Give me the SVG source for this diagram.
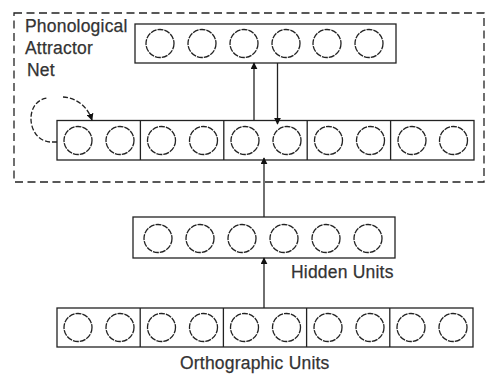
<svg xmlns="http://www.w3.org/2000/svg" width="485" height="376" viewBox="0 0 485 376">
  <defs>
    <style>
      .box { fill: #ffffff; stroke: #222; stroke-width: 1.3; }
      .div { stroke: #222; stroke-width: 1.3; }
      .unit { fill: #ffffff; stroke: #222; stroke-width: 1.3; stroke-dasharray: 6 1; }
      .link { fill: none; stroke: #222; stroke-width: 1.3; }
      .label { font-family: "Liberation Sans", Arial, sans-serif; font-size: 17.5px; fill: #333; stroke: #333; stroke-width: 0.25; letter-spacing: 0.2px; }
    </style>
    <marker id="head" viewBox="0 0 10 10" refX="9" refY="5" markerWidth="7" markerHeight="7" markerUnits="userSpaceOnUse" orient="auto">
      <path d="M0,0 L10,5 L0,10 z" fill="#111"/>
    </marker>
  </defs>

  <rect width="485" height="376" fill="#ffffff"/>

  <!-- attractor net boundary -->
  <g id="attractor-net">
    <rect x="14" y="13" width="470" height="169" fill="none" stroke="#222" stroke-width="1.3" stroke-dasharray="8 4.5"/>
    <text class="label" x="25" y="32">Phonological</text>
    <text class="label" x="25" y="54">Attractor</text>
    <text class="label" x="27" y="76">Net</text>
  </g>

  <!-- clean-up units at the top of the attractor -->
  <g id="phon-cleanup">
    <rect class="box" x="135" y="24" width="261" height="39"/>
    <circle class="unit" cx="160" cy="43.5" r="14"/>
    <circle class="unit" cx="202" cy="43.5" r="14"/>
    <circle class="unit" cx="244" cy="43.5" r="14"/>
    <circle class="unit" cx="286" cy="43.5" r="14"/>
    <circle class="unit" cx="327" cy="43.5" r="14"/>
    <circle class="unit" cx="369" cy="43.5" r="14"/>
  </g>

  <!-- phonological output units -->
  <g id="phon-units">
    <rect class="box" x="57" y="120.5" width="417" height="39.5"/>
    <line class="div" x1="140.4" y1="120.5" x2="140.4" y2="160"/>
    <line class="div" x1="223.8" y1="120.5" x2="223.8" y2="160"/>
    <line class="div" x1="307.2" y1="120.5" x2="307.2" y2="160"/>
    <line class="div" x1="390.6" y1="120.5" x2="390.6" y2="160"/>
    <circle class="unit" cx="78" cy="140.5" r="14"/>
    <circle class="unit" cx="120" cy="140.5" r="14"/>
    <circle class="unit" cx="161.5" cy="140.5" r="14"/>
    <circle class="unit" cx="203.5" cy="140.5" r="14"/>
    <circle class="unit" cx="245" cy="140.5" r="14"/>
    <circle class="unit" cx="287" cy="140.5" r="14"/>
    <circle class="unit" cx="328.5" cy="140.5" r="14"/>
    <circle class="unit" cx="370.5" cy="140.5" r="14"/>
    <circle class="unit" cx="412" cy="140.5" r="14"/>
    <circle class="unit" cx="453.5" cy="140.5" r="14"/>
  </g>

  <!-- hidden layer -->
  <g id="hidden-units">
    <rect class="box" x="133" y="217" width="262" height="41"/>
    <circle class="unit" cx="158" cy="238.5" r="14"/>
    <circle class="unit" cx="200" cy="238.5" r="14"/>
    <circle class="unit" cx="242" cy="238.5" r="14"/>
    <circle class="unit" cx="284" cy="238.5" r="14"/>
    <circle class="unit" cx="326" cy="238.5" r="14"/>
    <circle class="unit" cx="368" cy="238.5" r="14"/>
    <text class="label" x="291" y="278">Hidden Units</text>
  </g>

  <!-- orthographic input units -->
  <g id="orth-units">
    <rect class="box" x="57" y="308" width="416" height="39"/>
    <line class="div" x1="140.2" y1="308" x2="140.2" y2="347"/>
    <line class="div" x1="223.4" y1="308" x2="223.4" y2="347"/>
    <line class="div" x1="306.6" y1="308" x2="306.6" y2="347"/>
    <line class="div" x1="389.8" y1="308" x2="389.8" y2="347"/>
    <circle class="unit" cx="78" cy="327.5" r="14"/>
    <circle class="unit" cx="120" cy="327.5" r="14"/>
    <circle class="unit" cx="161.5" cy="327.5" r="14"/>
    <circle class="unit" cx="203.5" cy="327.5" r="14"/>
    <circle class="unit" cx="244.5" cy="327.5" r="14"/>
    <circle class="unit" cx="286.5" cy="327.5" r="14"/>
    <circle class="unit" cx="328" cy="327.5" r="14"/>
    <circle class="unit" cx="370" cy="327.5" r="14"/>
    <circle class="unit" cx="411" cy="327.5" r="14"/>
    <circle class="unit" cx="453" cy="327.5" r="14"/>
    <text class="label" x="180" y="369">Orthographic Units</text>
  </g>

  <!-- connections -->
  <g id="connectors">
    <line class="link" x1="254" y1="120.5" x2="254" y2="63" marker-end="url(#head)"/>
    <line class="link" x1="277.5" y1="63" x2="277.5" y2="124" marker-end="url(#head)"/>
    <line class="link" x1="264" y1="217" x2="264" y2="158" marker-end="url(#head)"/>
    <line class="link" x1="264" y1="308" x2="264" y2="258" marker-end="url(#head)"/>
    <path class="link" d="M57,142 L50,142 C26,140 24,100 48,98" stroke-dasharray="5 2"/>
    <path class="link" d="M63,97 C78,98 88,108 92,120" stroke-dasharray="5 2" marker-end="url(#head)"/>
  </g>
</svg>
